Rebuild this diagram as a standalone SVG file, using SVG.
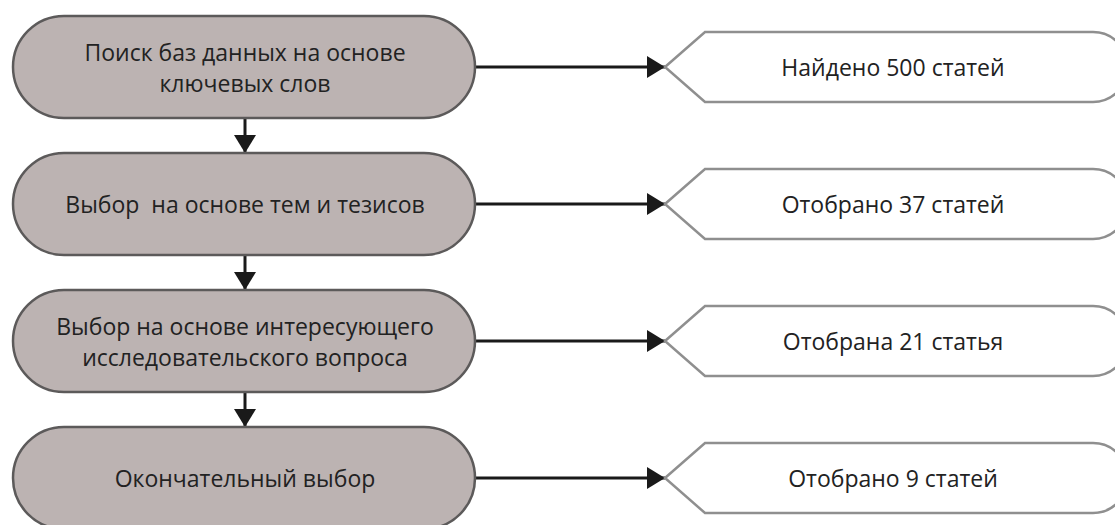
<svg xmlns="http://www.w3.org/2000/svg" width="1115" height="525" viewBox="0 0 1115 525">
<defs>
<style>
.proc{fill:#bcb3b2;stroke:#5c5a5a;stroke-width:2.5}
.disp{fill:#ffffff;stroke:#8f8f8f;stroke-width:2.5}
.t{font-family:"Open Sans","Noto Sans",sans-serif;font-size:23px;fill:#222222;text-anchor:middle;dominant-baseline:central}
.c{stroke:#1a1a1a;stroke-width:3;fill:none}
</style>
<marker id="ah" markerWidth="18" markerHeight="22" refX="18" refY="11" orient="auto" markerUnits="userSpaceOnUse">
<path d="M0,0 L18,11 L0,22 Z" fill="#1a1a1a"/>
</marker>
</defs>
<g id="connectors">
<line class="c" x1="245" y1="118" x2="245" y2="153" marker-end="url(#ah)"/>
<line class="c" x1="245" y1="255" x2="245" y2="290" marker-end="url(#ah)"/>
<line class="c" x1="245" y1="392" x2="245" y2="427" marker-end="url(#ah)"/>
<line class="c" x1="476" y1="67" x2="665" y2="67" marker-end="url(#ah)"/>
<line class="c" x1="476" y1="204" x2="665" y2="204" marker-end="url(#ah)"/>
<line class="c" x1="476" y1="341" x2="665" y2="341" marker-end="url(#ah)"/>
<line class="c" x1="476" y1="478" x2="665" y2="478" marker-end="url(#ah)"/>
</g>
<g id="n1">
<rect class="proc" x="13" y="16" width="462" height="102" rx="51" ry="51"/>
<text class="t" x="245" y="52">Поиск баз данных на основе</text>
<text class="t" x="245" y="83">ключевых слов</text>
</g>
<g id="n2">
<rect class="proc" x="13" y="153" width="462" height="102" rx="51" ry="51"/>
<text class="t" x="245" y="204" xml:space="preserve">Выбор  на основе тем и тезисов</text>
</g>
<g id="n3">
<rect class="proc" x="13" y="290" width="462" height="102" rx="51" ry="51"/>
<text class="t" x="245" y="326">Выбор на основе интересующего</text>
<text class="t" x="245" y="357">исследовательского вопроса</text>
</g>
<g id="n4">
<rect class="proc" x="13" y="427" width="462" height="102" rx="51" ry="51"/>
<text class="t" x="245" y="478">Окончательный выбор</text>
</g>
<g id="d1">
<path class="disp" d="M665,67 L705,32 L1093,32 A35,35 0 0 1 1093,102 L705,102 Z"/>
<text class="t" x="893" y="67">Найдено 500 статей</text>
</g>
<g id="d2">
<path class="disp" d="M665,204 L705,169 L1093,169 A35,35 0 0 1 1093,239 L705,239 Z"/>
<text class="t" x="893" y="204">Отобрано 37 статей</text>
</g>
<g id="d3">
<path class="disp" d="M665,341 L705,306 L1093,306 A35,35 0 0 1 1093,376 L705,376 Z"/>
<text class="t" x="893" y="341">Отобрана 21 статья</text>
</g>
<g id="d4">
<path class="disp" d="M665,478 L705,443 L1093,443 A35,35 0 0 1 1093,513 L705,513 Z"/>
<text class="t" x="893" y="478">Отобрано 9 статей</text>
</g>
</svg>
